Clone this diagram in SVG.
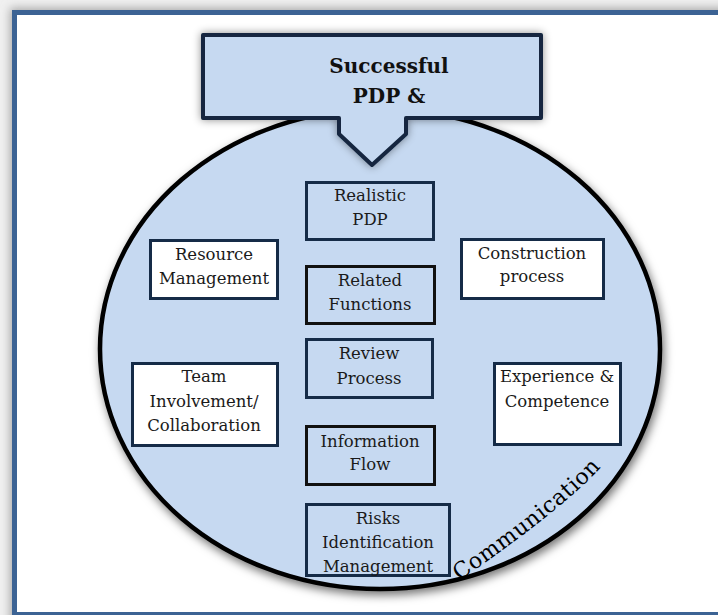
<svg xmlns="http://www.w3.org/2000/svg" width="718" height="615" viewBox="0 0 718 615">
<defs>
<filter id="fshadow" x="-10%" y="-10%" width="120%" height="120%">
<feGaussianBlur stdDeviation="5"/>
</filter>
<filter id="eshadow" x="-10%" y="-10%" width="125%" height="125%">
<feDropShadow dx="2" dy="4" stdDeviation="5" flood-color="#000" flood-opacity="0.55"/>
</filter>
<filter id="cshadow" x="-10%" y="-20%" width="120%" height="140%">
<feDropShadow dx="0" dy="0" stdDeviation="4" flood-color="#000" flood-opacity="0.45"/>
</filter>
<path id="commPath" d="M 459 581 Q 580 497 610 456"/>
</defs>
<style>
.box{stroke:#152b47;stroke-width:3}
.blue{fill:#c6d9f1}
.white{fill:#ffffff}
.dark{stroke:#111111}
.t{font-size:16.5px;fill:#1a1a1a;text-anchor:middle}
.title{font-size:20px;font-weight:bold;fill:#111111;text-anchor:middle}
.comm{font-size:22px;fill:#000000;letter-spacing:0.5px}
</style>
<rect x="0" y="0" width="718" height="615" fill="#f0f0f0"/>
<rect x="10" y="8" width="730" height="620" fill="#a8a8a8" filter="url(#fshadow)"/>
<g id="frame">
<rect x="14.5" y="12.5" width="720" height="602" fill="#ffffff" stroke="#3c6394" stroke-width="5"/>
</g>
<g id="circle">
<ellipse cx="380" cy="349" rx="280" ry="240" fill="#c6d9f1" stroke="#000000" stroke-width="4.5" filter="url(#eshadow)"/>
</g>
<g font-family="DejaVu Serif, serif">
<g id="callout">
<path d="M 203 35 L 541 35 L 541 118 L 406 118 L 406 134 L 372 165 L 339 134 L 339 118 L 203 118 Z" fill="#c6d9f1" stroke="#13263f" stroke-width="4" stroke-linejoin="round" filter="url(#cshadow)"/>
<text class="title" x="389" y="73">Successful</text>
<text class="title" x="389" y="103">PDP &amp;</text>
</g>
<g id="connectors"></g>
<g id="realistic">
<rect class="box blue" x="306.5" y="182.5" width="127" height="57"/>
<text class="t" x="370" y="201">Realistic</text>
<text class="t" x="370" y="225">PDP</text>
</g>
<g id="resource">
<rect class="box white" x="150.5" y="240.5" width="127" height="58"/>
<text class="t" x="214" y="260">Resource</text>
<text class="t" x="214" y="284">Management</text>
</g>
<g id="related">
<rect class="box blue dark" x="306.5" y="266.5" width="128" height="57"/>
<text class="t" x="370" y="286">Related</text>
<text class="t" x="370" y="310">Functions</text>
</g>
<g id="construction">
<rect class="box white" x="461.5" y="239.5" width="142" height="59"/>
<text class="t" x="532" y="259">Construction</text>
<text class="t" x="532" y="282">process</text>
</g>
<g id="review">
<rect class="box blue" x="306.5" y="339.5" width="126" height="58"/>
<text class="t" x="369" y="359">Review</text>
<text class="t" x="369" y="384">Process</text>
</g>
<g id="team">
<rect class="box white" x="132.5" y="363.5" width="145" height="82"/>
<text class="t" x="204" y="382">Team</text>
<text class="t" x="204" y="407">Involvement/</text>
<text class="t" x="204" y="431">Collaboration</text>
</g>
<g id="experience">
<rect class="box white" x="494.5" y="363.5" width="126" height="81"/>
<text class="t" x="557" y="382">Experience &amp;</text>
<text class="t" x="557" y="407">Competence</text>
</g>
<g id="information">
<rect class="box blue dark" x="306.5" y="426.5" width="128" height="58"/>
<text class="t" x="370" y="447">Information</text>
<text class="t" x="370" y="470">Flow</text>
</g>
<g id="risks">
<rect class="box blue" x="306.5" y="504.5" width="143" height="71"/>
<text class="t" x="378" y="524">Risks</text>
<text class="t" x="378" y="548">Identification</text>
<text class="t" x="378" y="572">Management</text>
</g>
<g id="communication">
<text class="comm"><textPath href="#commPath">Communication</textPath></text>
</g>
</g>
</svg>
